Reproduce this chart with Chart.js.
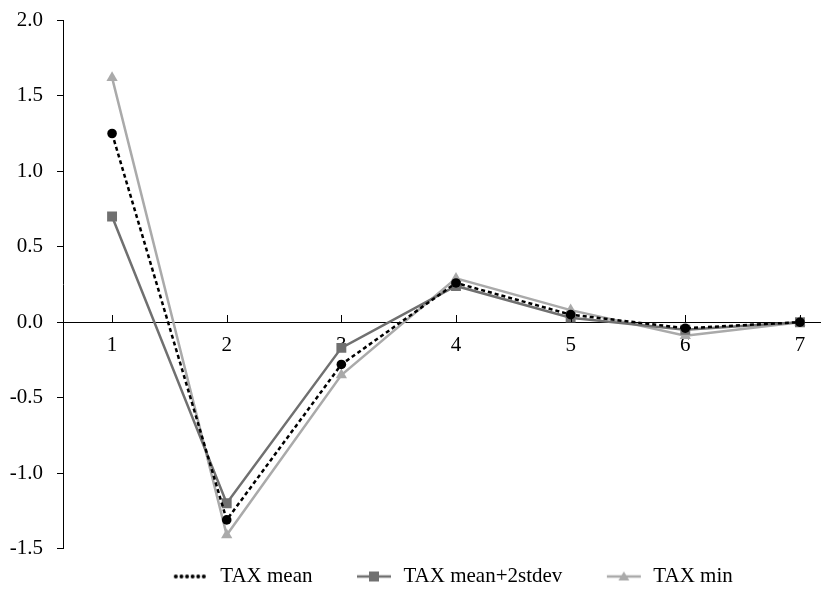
<!DOCTYPE html>
<html>
<head>
<meta charset="utf-8">
<script src="https://cdn.jsdelivr.net/npm/chart.js@4.4.1/dist/chart.umd.min.js"></script>
<style>
  body { margin: 0; background: #fff; }
  #wrap { width: 826px; height: 596px; }
</style>
</head>
<body>
<div id="wrap"><canvas id="irfChart" width="826" height="596"></canvas></div>
<script>
// Données
const periods = [1, 2, 3, 4, 5, 6, 7];
const taxMean = [1.25, -1.31, -0.28, 0.26, 0.05, -0.04, 0.0];
const taxMean2sd = [0.70, -1.20, -0.17, 0.24, 0.03, -0.05, 0.0];
const taxMin = [1.62, -1.41, -0.35, 0.29, 0.08, -0.09, 0.0];
const yTicks = [-1.5, -1.0, -0.5, 0.0, 0.5, 1.0, 1.5, 2.0];

const FONT = 'Liberation Serif, Times New Roman, serif';
const FONT_SIZE = 21;
const C_MEAN = '#000000';
const C_SD = '#707070';
const C_MIN = '#aaaaaa';

function toPoints(values) {
    return periods.map((p, i) => ({ x: p, y: values[i] }));
}

// Petite image pour la légende : espace vide à gauche, puis trait + marqueur
const SWATCH_BLANK = 34;
const SWATCH_W = SWATCH_BLANK + 36;
function legendSwatch(color, marker) {
    const c = document.createElement('canvas');
    c.width = SWATCH_W;
    c.height = 14;
    const g = c.getContext('2d');
    g.strokeStyle = color;
    g.fillStyle = color;
    const x0 = SWATCH_BLANK;
    const x1 = SWATCH_W - 2;
    if (marker === 'dots') {
        for (let x = x0 + 2; x < x1; x += 5.6) {
            g.beginPath();
            g.arc(x, 7, 2, 0, Math.PI * 2);
            g.fill();
        }
        return c;
    }
    g.lineWidth = 2.5;
    g.beginPath();
    g.moveTo(x0, 7);
    g.lineTo(x1, 7);
    g.stroke();
    const cx = (x0 + x1) / 2;
    if (marker === 'rect') {
        g.fillRect(cx - 5, 2, 10, 10);
    } else if (marker === 'triangle') {
        g.beginPath();
        g.moveTo(cx, 2);
        g.lineTo(cx + 5.5, 11);
        g.lineTo(cx - 5.5, 11);
        g.closePath();
        g.fill();
    }
    return c;
}

// Graduations de l'axe des x vers le haut
const xTickMarks = {
    id: 'xTickMarks',
    afterDatasetsDraw(chart) {
        const xs = chart.scales.x;
        const y0 = Math.round(chart.scales.y.getPixelForValue(0));
        const ctx = chart.ctx;
        ctx.save();
        ctx.strokeStyle = '#000';
        ctx.lineWidth = 1;
        periods.forEach(p => {
            const px = Math.round(xs.getPixelForValue(p)) + 0.5;
            ctx.beginPath();
            ctx.moveTo(px, y0);
            ctx.lineTo(px, y0 - 7);
            ctx.stroke();
        });
        ctx.restore();
    }
};

function legendItem(text, swatch) {
    return { text: text, pointStyle: swatch, fontColor: '#000', lineWidth: 0, strokeStyle: 'transparent', fillStyle: 'transparent' };
}

const ctx = document.getElementById('irfChart').getContext('2d');
const irfChart = new Chart(ctx, {
    type: 'line',
    data: {
        datasets: [
            {
                label: 'TAX mean',
                data: toPoints(taxMean),
                borderColor: C_MEAN,
                backgroundColor: C_MEAN,
                borderWidth: 2.5,
                borderDash: [4, 3],
                pointStyle: 'circle',
                pointRadius: 4.8,
                pointBorderWidth: 0,
                order: 1
            },
            {
                label: 'TAX mean+2stdev',
                data: toPoints(taxMean2sd),
                borderColor: C_SD,
                backgroundColor: C_SD,
                borderWidth: 2.5,
                pointStyle: 'rect',
                pointRadius: 7,
                pointBorderWidth: 0,
                order: 2
            },
            {
                label: 'TAX min',
                data: toPoints(taxMin),
                borderColor: C_MIN,
                backgroundColor: C_MIN,
                borderWidth: 2.5,
                pointStyle: 'triangle',
                pointRadius: 6.5,
                pointBorderWidth: 0,
                order: 3
            }
        ]
    },
    options: {
        responsive: false,
        animation: false,
        layout: { autoPadding: false, padding: { top: 18, right: 6, left: 0, bottom: -1 } },
        plugins: {
            tooltip: { enabled: false },
            legend: {
                position: 'bottom',
                fullSize: false,
                title: { display: true, text: '', padding: 0, font: { family: FONT, size: 14.5 } },
                labels: {
                    usePointStyle: true,
                    pointStyleWidth: SWATCH_W,
                    padding: 0,
                    color: '#000',
                    font: { family: FONT, size: FONT_SIZE },
                    generateLabels() {
                        return [
                            legendItem('TAX mean  ', legendSwatch(C_MEAN, 'dots')),
                            legendItem('TAX mean+2stdev  ', legendSwatch(C_SD, 'rect')),
                            legendItem('TAX min  ', legendSwatch(C_MIN, 'triangle'))
                        ];
                    }
                }
            }
        },
        scales: {
            x: {
                type: 'linear',
                position: { y: 0 },
                min: 0.572,
                max: 7.175,
                afterBuildTicks(scale) {
                    scale.ticks = periods.map(v => ({ value: v }));
                },
                grid: { display: true, drawOnChartArea: false, drawTicks: false },
                border: { display: true, color: '#000', width: 1 },
                ticks: {
                    color: '#000',
                    padding: 11,
                    font: { family: FONT, size: FONT_SIZE },
                    callback: v => String(v)
                }
            },
            y: {
                min: -1.5,
                max: 2.0,
                afterBuildTicks(scale) {
                    scale.ticks = yTicks.map(v => ({ value: v }));
                },
                afterFit(scale) {
                    scale.width = 63;
                },
                grid: { display: true, drawOnChartArea: false, drawTicks: true, tickLength: 6, color: '#000' },
                border: { display: true, color: '#000', width: 1 },
                ticks: {
                    color: '#000',
                    padding: 14,
                    font: { family: FONT, size: FONT_SIZE, lineHeight: 0.6 },
                    callback: v => v.toFixed(1)
                }
            }
        }
    },
    plugins: [xTickMarks]
});
</script>
</body>
</html>
